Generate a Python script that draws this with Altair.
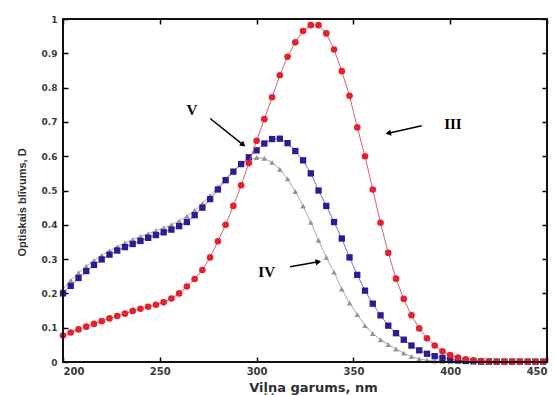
import altair as alt
import pandas as pd

wavelength = [200, 204, 208, 212, 216, 220, 224, 228, 232, 236, 240, 244, 248,
              252, 256, 260, 264, 268, 272, 276, 280, 284, 288, 292, 296, 300,
              304, 308, 312, 316, 320, 324, 328, 332, 336, 340, 344, 348, 352,
              356, 360, 364, 368, 372, 376, 380, 384, 388, 392, 396, 400, 404,
              408, 412, 416, 420, 424, 428, 432, 436, 440, 444, 448]

curve_III = [0.077, 0.086, 0.095, 0.103, 0.111, 0.119, 0.127, 0.134, 0.141, 0.149, 0.155, 0.161, 0.167,
             0.174, 0.185, 0.200, 0.220, 0.242, 0.268, 0.305, 0.352, 0.400, 0.455, 0.515, 0.580, 0.645,
             0.708, 0.772, 0.836, 0.890, 0.932, 0.965, 0.982, 0.982, 0.958, 0.911, 0.848, 0.776, 0.684,
             0.600, 0.503, 0.406, 0.318, 0.243, 0.184, 0.136, 0.098, 0.069, 0.048, 0.031, 0.020, 0.013,
             0.008, 0.005, 0.003, 0.002, 0.001, 0.001, 0.001, 0.001, 0.001, 0.001, 0.001]

curve_V = [0.200, 0.222, 0.245, 0.265, 0.283, 0.299, 0.313, 0.325, 0.335, 0.344, 0.353, 0.362, 0.370,
           0.378, 0.386, 0.396, 0.408, 0.428, 0.450, 0.475, 0.503, 0.530, 0.555, 0.577, 0.597, 0.617,
           0.637, 0.650, 0.651, 0.638, 0.615, 0.588, 0.550, 0.500, 0.455, 0.408, 0.360, 0.305, 0.254,
           0.208, 0.170, 0.136, 0.106, 0.084, 0.065, 0.048, 0.034, 0.024, 0.017, 0.012, 0.008, 0.005,
           0.003, 0.002, 0.001, 0.001, 0.001, 0.001, 0.001, 0.001, 0.001, 0.001, 0.001]

curve_IV = [0.213, 0.238, 0.260, 0.279, 0.296, 0.311, 0.324, 0.336, 0.347, 0.357, 0.366, 0.374, 0.383,
            0.391, 0.400, 0.411, 0.425, 0.442, 0.462, 0.485, 0.510, 0.535, 0.558, 0.576, 0.589, 0.596,
            0.594, 0.582, 0.562, 0.534, 0.497, 0.455, 0.407, 0.355, 0.305, 0.262, 0.213, 0.172, 0.138,
            0.106, 0.083, 0.065, 0.051, 0.038, 0.026, 0.016, 0.009, 0.005, 0.003, 0.002, 0.001, 0.001,
            0.001, 0.001, 0.001, 0.001, 0.001, 0.001, 0.001, 0.001, 0.001, 0.001, 0.001]

x_ticks = [200, 250, 300, 350, 400, 450]
y_ticks = [0, 0.1, 0.2, 0.3, 0.4, 0.5, 0.6, 0.7, 0.8, 0.9, 1]
x_range = [200, 450]
y_range = [0, 1]

label_text = ["V", "III", "IV"]
label_x = [266.6, 401.4, 305.2]
label_y = [0.735, 0.694, 0.263]

arrow_x1 = [276.0, 385.3, 317.3]
arrow_y1 = [0.710, 0.689, 0.278]
arrow_x2 = [293.1, 368.0, 331.9]
arrow_y2 = [0.633, 0.667, 0.292]
arrow_angle = [129, 257, 80]

df = pd.DataFrame({"wl": wavelength, "III": curve_III, "IV": curve_IV, "V": curve_V})
labels_df = pd.DataFrame({"t": label_text, "x": label_x, "y": label_y})
arrows_df = pd.DataFrame({"x1": arrow_x1, "y1": arrow_y1, "x2": arrow_x2,
                          "y2": arrow_y2, "ang": arrow_angle})

xs = alt.Scale(domain=x_range, nice=False, zero=False)
ys = alt.Scale(domain=y_range, nice=False)

tick_font = "DejaVu Sans"
label_col = "#3a3a3a"

x_bottom = alt.Axis(orient="bottom", values=x_ticks, tickSize=5, offset=-5, domain=False,
                    grid=False, labelFont=tick_font, labelFontWeight="bold", labelFontSize=10,
                    labelColor=label_col, labelPadding=4, tickColor="black", tickWidth=1.5,
                    title="Viļņa garums, nm", titleFont=tick_font, titleFontSize=13,
                    titleFontWeight="bold", titleColor="#303030", titlePadding=5, titleX=250)
y_left = alt.Axis(orient="left", values=y_ticks, format=".1~f", tickSize=5, offset=-5,
                  domain=False, grid=False, labelFont=tick_font, labelFontWeight="bold",
                  labelFontSize=9, labelColor=label_col, labelPadding=6, tickColor="black",
                  tickWidth=1.5,
                  title="Optiskais blīvums, D", titleFont="Liberation Sans", titleFontSize=11,
                  titleFontWeight="bold", titleColor="#303030", titlePadding=14, titleY=183)
x_top = alt.Axis(orient="top", values=x_ticks, tickSize=5, offset=-5, domain=False,
                 grid=False, labels=False, title=None, tickColor="black", tickWidth=1.5)
y_right = alt.Axis(orient="right", values=y_ticks, tickSize=5, offset=-5, domain=False,
                   grid=False, labels=False, title=None, tickColor="black", tickWidth=1.5)

base = alt.Chart(df)

frame = alt.Chart(pd.DataFrame({"a": [0]})).mark_rect(
    filled=False, stroke="#111111", strokeWidth=2).encode(
    x=alt.X(datum=x_range[0], scale=xs, axis=None), x2=alt.X2(datum=x_range[1]),
    y=alt.Y(datum=y_range[0], scale=ys, axis=None), y2=alt.Y2(datum=y_range[1]))

iv_line = base.mark_line(color="#aaa3c4", strokeWidth=1).encode(
    x=alt.X("wl:Q", scale=xs, axis=x_bottom),
    y=alt.Y("IV:Q", scale=ys, axis=y_left))
iv_pts = base.mark_point(shape="triangle-up", filled=True, size=32, color="#959595", opacity=1).encode(
    x=alt.X("wl:Q", scale=xs, axis=None), y=alt.Y("IV:Q", scale=ys, axis=None))

v_line = base.mark_line(color="#7a72c8", strokeWidth=1).encode(
    x=alt.X("wl:Q", scale=xs, axis=None), y=alt.Y("V:Q", scale=ys, axis=None))
v_pts = base.mark_point(shape="square", filled=True, size=40, color="#2c1c92", opacity=1).encode(
    x=alt.X("wl:Q", scale=xs, axis=None), y=alt.Y("V:Q", scale=ys, axis=None))

iii_line = base.mark_line(color="#d4607c", strokeWidth=1).encode(
    x=alt.X("wl:Q", scale=xs, axis=x_top), y=alt.Y("III:Q", scale=ys, axis=y_right))
iii_pts = base.mark_point(shape="circle", filled=True, size=44, color="#e4222e", opacity=1).encode(
    x=alt.X("wl:Q", scale=xs, axis=None), y=alt.Y("III:Q", scale=ys, axis=None))

txt = alt.Chart(labels_df).mark_text(font="Liberation Serif", fontWeight="bold", fontSize=15,
                                     color="black").encode(
    x=alt.X("x:Q", scale=xs, axis=None), y=alt.Y("y:Q", scale=ys, axis=None), text="t:N")

shafts = alt.Chart(arrows_df).mark_rule(color="black", strokeWidth=1.5).encode(
    x=alt.X("x1:Q", scale=xs, axis=None), y=alt.Y("y1:Q", scale=ys, axis=None),
    x2="x2:Q", y2="y2:Q")
heads = alt.Chart(arrows_df).mark_point(shape="triangle-up", filled=True, size=40,
                                        color="black", opacity=1).encode(
    x=alt.X("x2:Q", scale=xs, axis=None), y=alt.Y("y2:Q", scale=ys, axis=None),
    angle=alt.Angle("ang:Q", scale=None))

chart = alt.layer(iv_line, iv_pts, v_line, v_pts, iii_line, iii_pts, shafts, heads, txt,
                  frame).resolve_axis(
    x="independent", y="independent"
).properties(
    width=484, height=343,
    padding={"left": 63, "top": 19, "right": 9, "bottom": 33},
    autosize=alt.AutoSizeParams(type="none"),
).configure_view(stroke="black", strokeWidth=1.5)

chart.save("out.html", embed_options={"renderer": "svg", "actions": False})
